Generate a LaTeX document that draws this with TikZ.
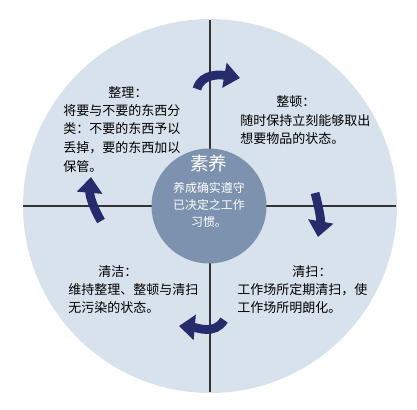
\documentclass[tikz,border=0pt]{standalone}
\usepackage{fontspec}
\newfontfamily\cjk{Noto Sans CJK SC}
\usetikzlibrary{arrows.meta}
\definecolor{disc}{HTML}{D7E2EC}
\definecolor{hub}{HTML}{7C92AE}
\definecolor{navy}{HTML}{262B6B}
\tikzset{cyc/.style={-{Triangle[length=9pt,width=14pt]}, line width=5pt, navy}}
\tikzset{head/.style={font=\cjk\fontsize{7.4}{9}\selectfont, inner sep=0pt}}
\tikzset{body/.style={font=\cjk\fontsize{7.4}{10.6}\selectfont, align=left, inner sep=0pt, anchor=north west}}

\begin{document}
\begin{tikzpicture}[x=0.02cm, y=-0.02cm]
    \useasboundingbox (0,0) rectangle (417,410);
    \fill[disc] (210,206) circle[radius=3.74cm];
    \coordinate (N) at (210,20);
    \coordinate (S) at (210,392);
    \coordinate (W) at (23,206);
    \coordinate (E) at (396,206);
    \draw[line width=0.6pt, black!80] (N) -- (S);
    \draw[line width=0.6pt, black!80] (W) -- (E);
    \node[circle, fill=hub, minimum size=2.3cm] (SY) at (209,206) {};
    \node[font=\cjk\fontsize{10.5}{12}\selectfont, text=white] (SYt) at (209,163) {素养};
    \node[font=\cjk\fontsize{6.8}{9.6}\selectfont, text=white, align=center] (SYb) at (209,205) {养成确实遵守\\已决定之工作\\习惯。};
    \node[head] (ZL) at (128,92) {整理：};
    \node[body] (ZLb) at (63,104) {将要与不要的东西分\\类：不要的东西予以\\丢掉，要的东西加以\\保管。};
    \node[head] (ZD) at (296,102) {整顿：};
    \node[body] (ZDb) at (240,114) {随时保持立刻能够取出\\想要物品的状态。};
    \node[head] (QJ) at (118,272) {清洁：};
    \node[body] (QJb) at (68,283) {维持整理、整顿与清扫\\无污染的状态。};
    \node[head] (QS) at (312,272) {清扫：};
    \node[body] (QSb) at (237,283) {工作场所定期清扫，使\\工作场所明朗化。};
    \coordinate (a1) at (197,89);
    \coordinate (a2) at (240,78);
    \coordinate (b1) at (315,193);
    \coordinate (b2) at (318,237);
    \coordinate (c1) at (224,320);
    \coordinate (c2) at (179,326);
    \coordinate (d1) at (101,221);
    \coordinate (d2) at (91,177);
    \draw[cyc] (a1) to[out=75, in=170] (a2);
    \draw[cyc] (b1) to[out=-75, in=80] (b2);
    \draw[cyc] (c1) to[out=-120, in=-5] (c2);
    \draw[cyc] (d1) to[out=120, in=-95] (d2);
\end{tikzpicture}
\end{document}
